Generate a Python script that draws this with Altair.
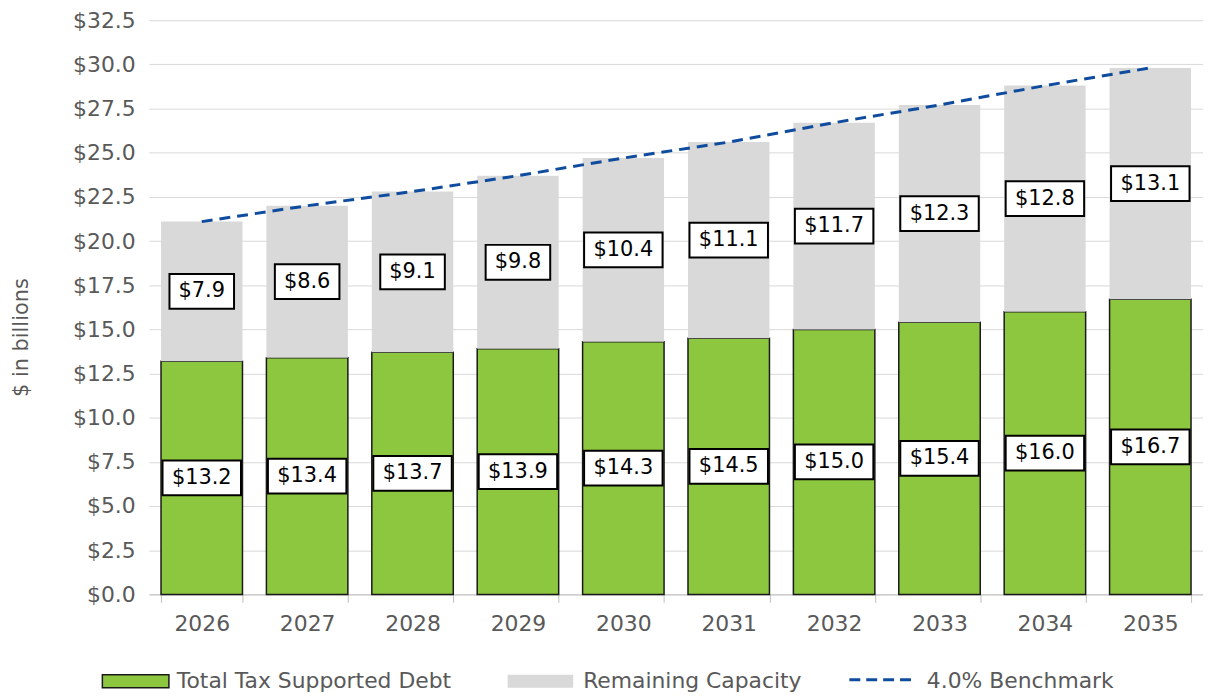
import altair as alt
import pandas as pd

# ---- data ----
years = ["2026", "2027", "2028", "2029", "2030", "2031", "2032", "2033", "2034", "2035"]
debt = [13.2, 13.4, 13.7, 13.9, 14.3, 14.5, 15.0, 15.4, 16.0, 16.7]
capacity = [7.9, 8.6, 9.1, 9.8, 10.4, 11.1, 11.7, 12.3, 12.8, 13.1]
benchmark = [21.1, 22.0, 22.8, 23.7, 24.7, 25.6, 26.7, 27.7, 28.8, 29.8]
series = ["Total Tax Supported Debt", "Remaining Capacity", "4.0% Benchmark"]
y_ticks = [0.0, 2.5, 5.0, 7.5, 10.0, 12.5, 15.0, 17.5, 20.0, 22.5, 25.0, 27.5, 30.0, 32.5]

GREEN = "#8DC63F"
GRAY = "#D9D9D9"
BLUE = "#0F4C9E"
TXT = "#595959"
FONT = "DejaVu Sans"

rows = []
for i, yr in enumerate(years):
    base = 0.0
    for s, v in ((series[0], debt[i]), (series[1], capacity[i])):
        lab = "$" + format(v, ".1f")
        rows.append({"year": yr, "series": s, "value": v, "y0": base, "y1": base + v,
                     "mid": base + v / 2, "label": lab,
                     "wide": "w" if len(lab) > 4 else "n"})
        base += v
bars_df = pd.DataFrame(rows)
line_df = pd.DataFrame({"year": years, "bench": benchmark})

x_axis = alt.Axis(title=None, labelAngle=0, tickBand="extent", grid=False,
                  domainColor="#BFBFBF", tickColor="#BFBFBF", tickSize=8,
                  labelFontSize=22, labelColor=TXT, labelFont=FONT, labelPadding=11)
x_scale = alt.Scale(domain=years, paddingInner=0.227, paddingOuter=0.1135)
y_axis = alt.Axis(values=y_ticks, labelExpr="'$' + format(datum.value, '.1f')",
                  title="$ in billions", titleFontSize=21, titleFont=FONT,
                  titleColor=TXT, titleFontWeight="normal", titleX=-128, titleY=319,
                  titleAngle=270, titleAlign="center", titleBaseline="middle",
                  domain=False, ticks=False, grid=True, gridColor=GRAY,
                  labelFontSize=22, labelColor=TXT, labelFont=FONT, labelPadding=14)
y_scale = alt.Scale(domain=[0, 32.5], nice=False, zero=True)


def X():
    return alt.X("year:N", scale=x_scale, axis=x_axis)


def Y(field):
    return alt.Y(field, scale=y_scale, axis=y_axis)


bars = alt.Chart(bars_df).mark_bar(strokeWidth=1.5).encode(
    x=X(),
    y=Y("y1:Q"),
    y2="y0:Q",
    fill=alt.Color("series:N", scale=alt.Scale(domain=series[:2], range=[GREEN, GRAY]), legend=None),
    stroke=alt.condition(alt.datum.series == series[0], alt.value("#1a1a1a"), alt.value("transparent")),
)

line = alt.Chart(line_df).mark_line(color=BLUE, strokeWidth=3, strokeDash=[11, 7]).encode(
    x=X(),
    y=Y("bench:Q"),
)

W_PATH = "M-0.9875,-0.4375H0.9875V0.4375H-0.9875Z"
N_PATH = "M-0.8125,-0.4375H0.8125V0.4375H-0.8125Z"

boxes = alt.Chart(bars_df).mark_point(filled=True, fill="white", stroke="black", strokeWidth=2,
                                      opacity=1, size=6400).encode(
    x=X(),
    y=Y("mid:Q"),
    shape=alt.Shape("wide:N", scale=alt.Scale(domain=["w", "n"], range=[W_PATH, N_PATH]), legend=None),
)

texts = alt.Chart(bars_df).mark_text(fontSize=21, font=FONT, color="black",
                                     align="center", baseline="middle").encode(
    x=X(),
    y=Y("mid:Q"),
    text="label:N",
)

# ---- legend (manual, below the plot) ----
leg_df = pd.DataFrame({"label": series})
leg_green = alt.Chart(leg_df.iloc[[0]]).mark_rect(fill=GREEN, stroke="#1a1a1a", strokeWidth=1.5).encode(
    x=alt.value(-47), x2=alt.value(20), y=alt.value(659), y2=alt.value(672))
leg_gray = alt.Chart(leg_df.iloc[[1]]).mark_rect(fill=GRAY).encode(
    x=alt.value(361), x2=alt.value(427), y=alt.value(659), y2=alt.value(672))
leg_dash = alt.Chart(leg_df.iloc[[2]]).mark_rule(color=BLUE, strokeWidth=3, strokeDash=[11, 6]).encode(
    x=alt.value(705), x2=alt.value(773), y=alt.value(664))
leg_t1 = alt.Chart(leg_df.iloc[[0]]).mark_text(align="left", baseline="middle", fontSize=22, font=FONT, color=TXT).encode(
    x=alt.value(28), y=alt.value(665), text="label:N")
leg_t2 = alt.Chart(leg_df.iloc[[1]]).mark_text(align="left", baseline="middle", fontSize=22, font=FONT, color=TXT).encode(
    x=alt.value(437), y=alt.value(665), text="label:N")
leg_t3 = alt.Chart(leg_df.iloc[[2]]).mark_text(align="left", baseline="middle", fontSize=22, font=FONT, color=TXT).encode(
    x=alt.value(783), y=alt.value(665), text="label:N")

chart = alt.layer(bars, line, boxes, texts, leg_green, leg_gray, leg_dash, leg_t1, leg_t2, leg_t3).properties(
    width=1061, height=578,
    autosize=alt.AutoSizeParams(type="none"),
    padding={"left": 142, "top": 10, "right": 0, "bottom": 101},
).configure(font=FONT, view=alt.ViewConfig(stroke=None))

chart.save("out.html", embed_options={"renderer": "svg", "actions": False})
